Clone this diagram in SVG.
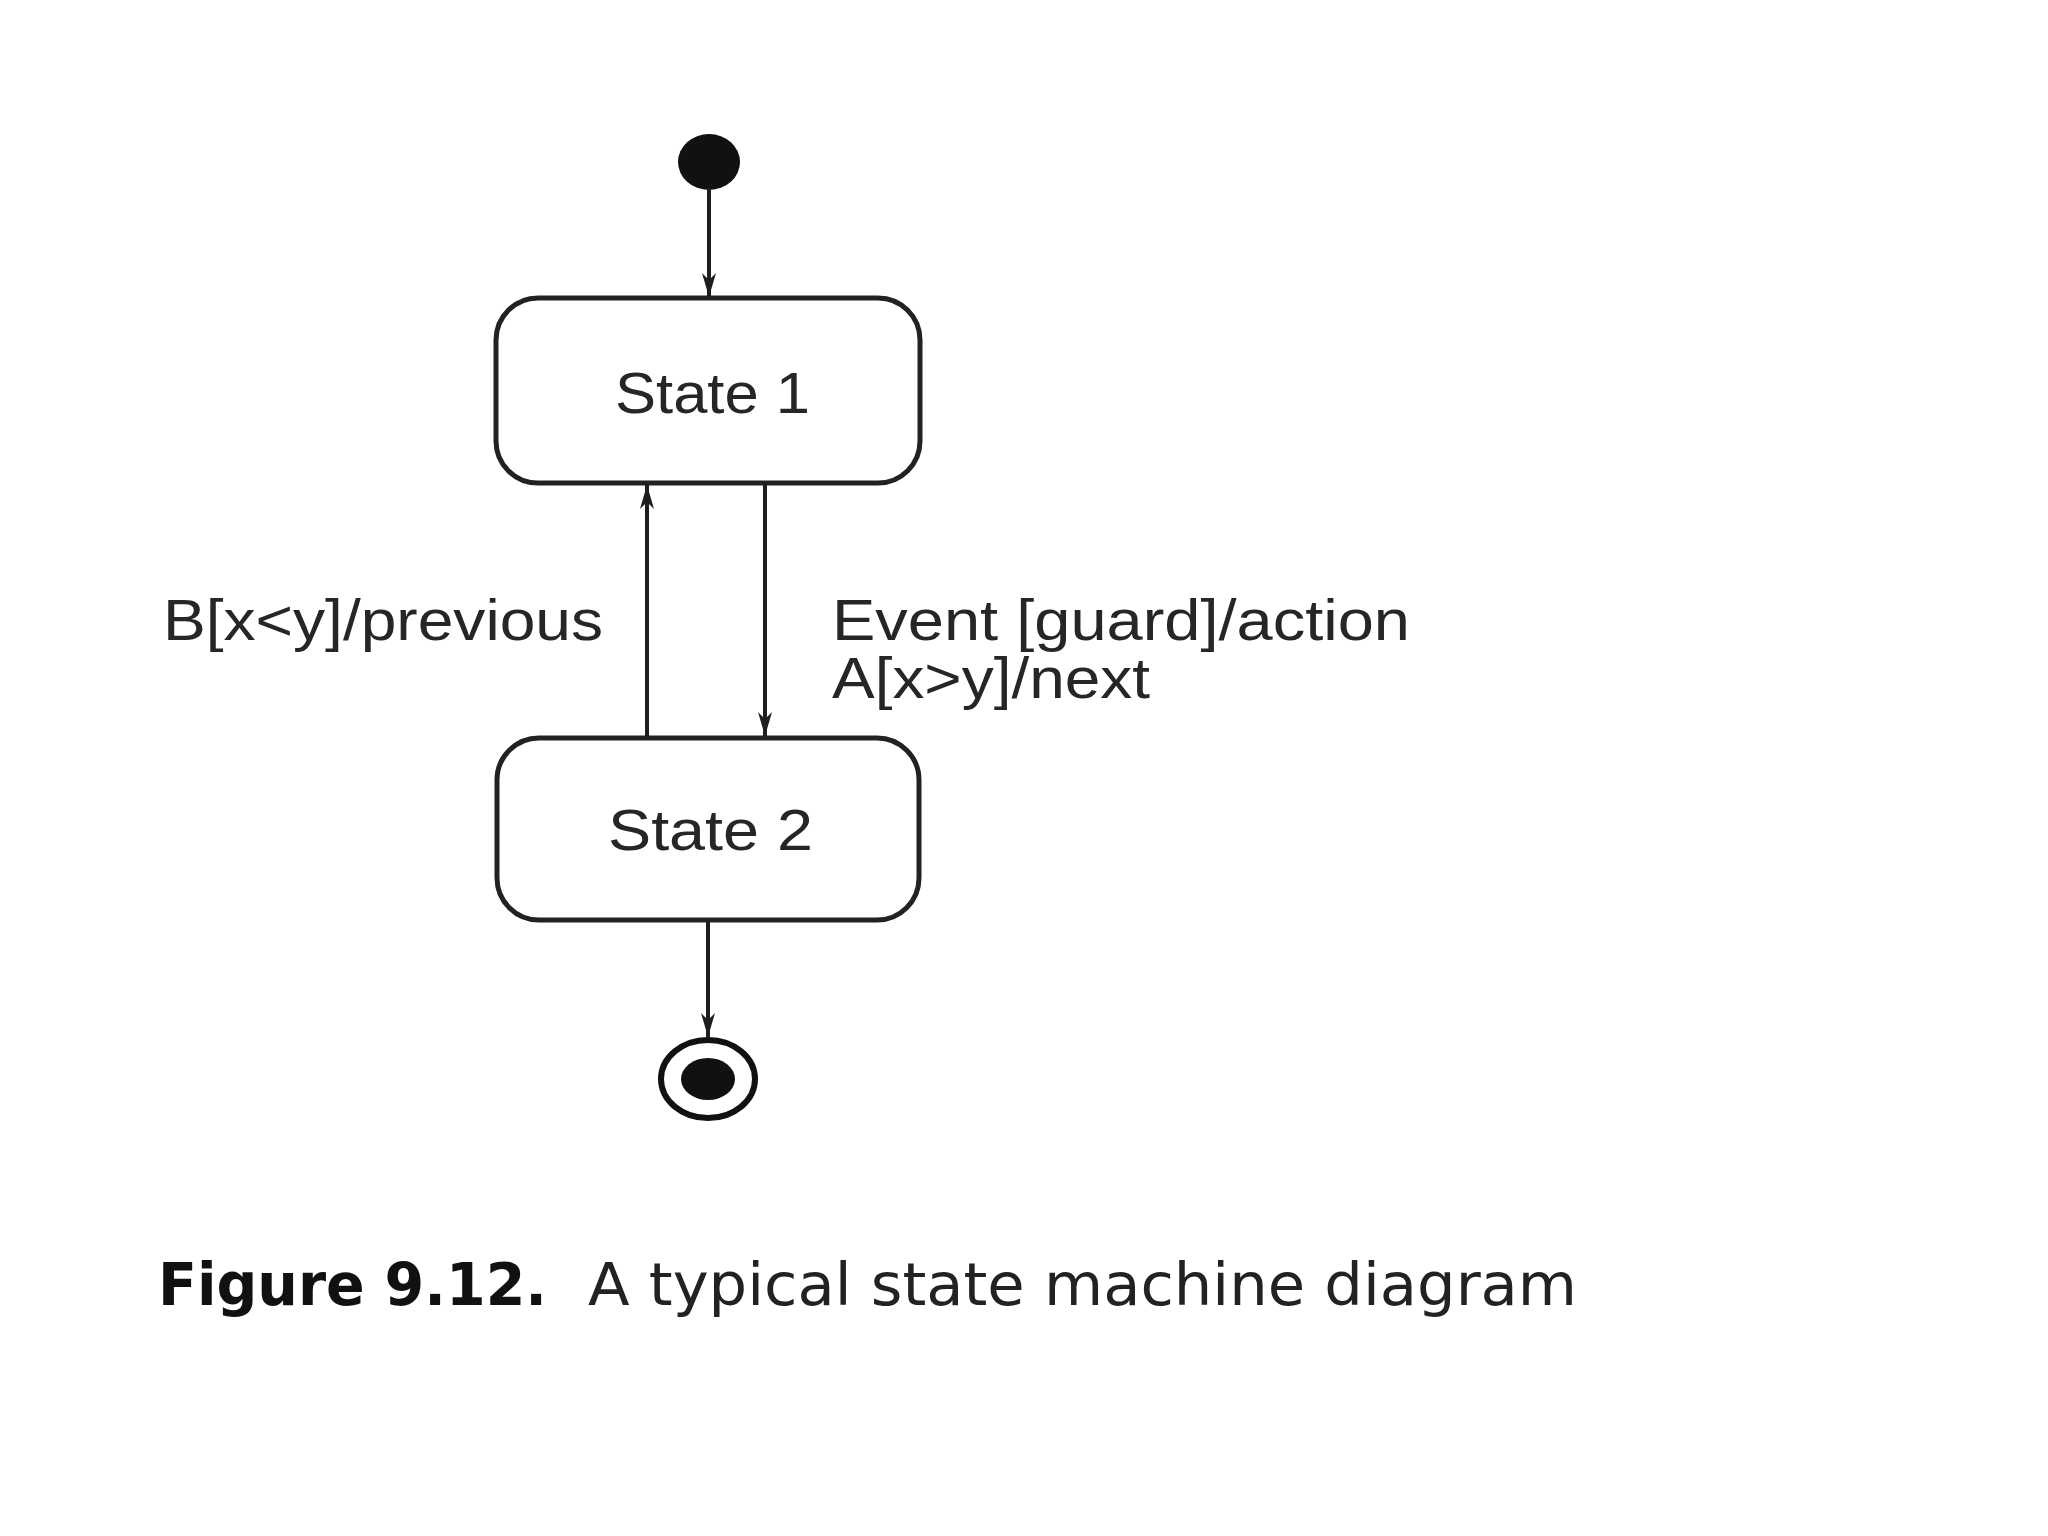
<svg xmlns="http://www.w3.org/2000/svg" width="2048" height="1536" viewBox="0 0 2048 1536">
<style>
.state{fill:#fff;stroke:#222;stroke-width:5}
.lbl{font-family:"Liberation Sans",Arial,sans-serif;font-size:57px;fill:#262626}
.edge{stroke:#1e1e1e;stroke-width:4;fill:none}
.cap{font-family:"Liberation Sans Narrow","DejaVu Sans Condensed","Liberation Sans",sans-serif;font-size:58px}
</style>
<defs>
<marker id="arr" viewBox="0 0 24 16" refX="24" refY="8" markerWidth="24" markerHeight="16" orient="auto" markerUnits="userSpaceOnUse">
<path d="M0,1 L24,8 L0,15 L7,8 z" fill="#1e1e1e"/>
</marker>
</defs>
<rect width="2048" height="1536" fill="#fff"/>
<g id="initial">
<ellipse cx="709" cy="162" rx="31" ry="28" fill="#111"/>
</g>
<g id="state1">
<rect class="state" x="496" y="298" width="424" height="185" rx="42" ry="42"/>
<text class="lbl" x="615" y="413" textLength="195" lengthAdjust="spacingAndGlyphs">State 1</text>
</g>
<g id="state2">
<rect class="state" x="497" y="738" width="422" height="182" rx="42" ry="42"/>
<text class="lbl" x="608" y="850" textLength="205" lengthAdjust="spacingAndGlyphs">State 2</text>
</g>
<g id="final">
<ellipse cx="708" cy="1079" rx="47" ry="39" fill="#fff" stroke="#111" stroke-width="6"/>
<ellipse cx="708" cy="1079" rx="27" ry="21" fill="#111"/>
</g>
<g id="connectors">
<line class="edge" x1="709" y1="188" x2="709" y2="297" marker-end="url(#arr)"/>
<line class="edge" x1="647" y1="738" x2="647" y2="485" marker-end="url(#arr)"/>
<line class="edge" x1="765" y1="483" x2="765" y2="736" marker-end="url(#arr)"/>
<line class="edge" x1="708" y1="920" x2="708" y2="1037" marker-end="url(#arr)"/>
</g>
<g id="labels">
<text class="lbl" x="163" y="640" textLength="440" lengthAdjust="spacingAndGlyphs">B[x&lt;y]/previous</text>
<text class="lbl" x="832" y="640" textLength="578" lengthAdjust="spacingAndGlyphs">Event [guard]/action</text>
<text class="lbl" x="832" y="698" textLength="318" lengthAdjust="spacingAndGlyphs">A[x&gt;y]/next</text>
</g>
<g id="caption">
<text class="cap" x="158" y="1305" font-weight="bold" fill="#111" textLength="389" lengthAdjust="spacingAndGlyphs">Figure 9.12.</text>
<text class="cap" x="588" y="1305" fill="#222" textLength="989" lengthAdjust="spacingAndGlyphs">A typical state machine diagram</text>
</g>
</svg>
